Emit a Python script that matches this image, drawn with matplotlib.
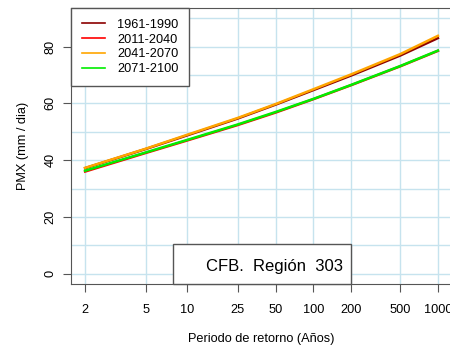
import matplotlib
matplotlib.use("Agg")
import matplotlib.pyplot as plt
from matplotlib.patches import Rectangle
import numpy as np

plt.rcParams['font.family'] = ['Liberation Sans', 'DejaVu Sans']

# return periods (years) and PMX values (mm/dia)
periods = [2, 5, 10, 25, 50, 100, 200, 500, 1000]
pmx_1961_1990 = [37.2, 44.0, 48.7, 54.7, 59.6, 64.7, 69.8, 76.9, 83.0]
pmx_2011_2040 = [36.0, 42.6, 46.9, 52.4, 56.8, 61.5, 66.4, 73.1, 78.5]
pmx_2041_2070 = [37.3, 44.1, 48.9, 54.9, 59.8, 65.0, 70.2, 77.4, 83.8]
pmx_2071_2100 = [36.3, 42.8, 47.1, 52.6, 57.0, 61.6, 66.5, 73.2, 78.6]

series = [('1961-1990', pmx_1961_1990, '#8b0000'),
          ('2011-2040', pmx_2011_2040, '#ff0000'),
          ('2041-2070', pmx_2041_2070, '#ffa500'),
          ('2071-2100', pmx_2071_2100, '#00ee00')]

y_ticks = [0, 20, 40, 60, 80]
y_grid = list(range(0, 100, 10))


# gumbel reduced variate scale
def fwd(t):
    t = np.asarray(t, dtype=float)
    with np.errstate(all='ignore'):
        return -np.log(-np.log(1 - 1 / t))


def inv(y):
    y = np.asarray(y, dtype=float)
    with np.errstate(all='ignore'):
        return 1 / (1 - np.exp(-np.exp(-y)))


fig = plt.figure(figsize=(4.5, 3.5), dpi=100)
ax = fig.add_axes([71 / 450, 1 - 284 / 350, 381 / 450, 276 / 350])
ax.set_xscale('function', functions=(fwd, inv))

for label, vals, col in series:
    ax.plot(periods, vals, color=col, lw=1.8, label=label, zorder=3)

# R style 4% padding
a, b = fwd(periods[0]), fwd(periods[-1])
pad = 0.04 * (b - a)
ax.set_xlim(inv(a - pad), inv(b + pad))
ax.set_ylim(-0.04 * 90, 90 * 1.04)

for t in periods:
    ax.axvline(t, color='#c6e3ee', lw=1, zorder=1)
for g in y_grid:
    ax.axhline(g, color='#c6e3ee', lw=1, zorder=1)

ax.set_xticks(periods)
ax.set_xticklabels([str(p) for p in periods])
ax.minorticks_off()
ax.set_yticks(y_ticks)
ax.set_yticklabels([str(v) for v in y_ticks], rotation=90, va='center')
ax.tick_params(axis='x', length=5.5, pad=9, labelsize=9.2, color='#555555')
ax.tick_params(axis='y', length=5.5, pad=5, labelsize=9.2, color='#555555')
for s in ax.spines.values():
    s.set_color('#555555')

ax.set_xlabel('Periodo de retorno (Años)', fontsize=9.2, labelpad=12)
ax.set_ylabel('PMX (mm / dia)', fontsize=9.2, labelpad=11)

leg = ax.legend(loc='upper left', fontsize=9.2, frameon=True, fancybox=False,
                borderaxespad=0, handlelength=1.8, handletextpad=0.95,
                labelspacing=0.22, borderpad=0.85, framealpha=1)
leg.get_frame().set_edgecolor('#555555')
leg.get_frame().set_linewidth(1)
for h in leg.get_lines():
    h.set_linewidth(1.2)
leg.set_zorder(6)

# label box sitting on the bottom axis
ax.add_patch(Rectangle((0.268, 0), 0.467, 0.145, transform=ax.transAxes,
                       facecolor='white', edgecolor='#555555', lw=1,
                       zorder=5, clip_on=False))
ax.text(0.714, 0.062, 'CFB.  Región  303', transform=ax.transAxes,
        fontsize=12, ha='right', va='center', zorder=6)

fig.savefig('out.png', dpi=100)
